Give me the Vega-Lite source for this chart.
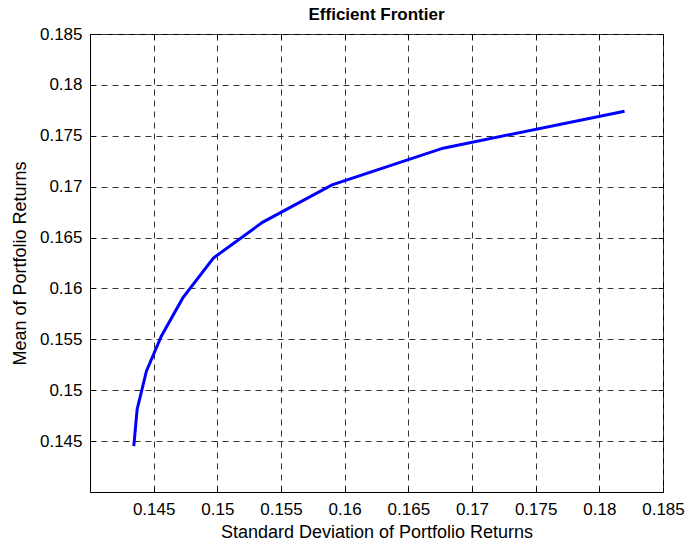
{
  "$schema": "https://vega.github.io/schema/vega-lite/v6.json",
  "autosize": "none",
  "width": 573,
  "height": 458,
  "padding": {"left": 90, "top": 34, "right": 22, "bottom": 52},
  "background": "white",
  "title": {"text": "Efficient Frontier", "font": "Liberation Sans", "fontSize": 17, "fontWeight": "bold", "color": "black", "offset": 1, "anchor": "middle"},
  "config": {
    "view": {"stroke": "black", "strokeWidth": 1},
    "axis": {"labelFont": "Liberation Sans", "titleFont": "Liberation Sans", "labelColor": "black", "titleColor": "black", "titleFontWeight": "normal"}
  },
  "data": {"values": [
    {"risk": 0.14344, "ret": 0.14451},
    {"risk": 0.14370, "ret": 0.14811},
    {"risk": 0.14443, "ret": 0.15187},
    {"risk": 0.14560, "ret": 0.15530},
    {"risk": 0.14729, "ret": 0.15907},
    {"risk": 0.14969, "ret": 0.16299},
    {"risk": 0.15354, "ret": 0.16649},
    {"risk": 0.15901, "ret": 0.17018},
    {"risk": 0.16773, "ret": 0.17378},
    {"risk": 0.18198, "ret": 0.17741}
  ]},
  "layer": [
    {
      "mark": {"type": "line", "color": "#0000ff", "strokeWidth": 3},
      "encoding": {
        "x": {"field": "risk", "type": "quantitative", "scale": {"domain": [0.14, 0.185], "nice": false, "zero": false},
          "axis": {"orient": "bottom", "title": "Standard Deviation of Portfolio Returns", "titleFontSize": 18, "labelFontSize": 17,
            "values": [0.145, 0.15, 0.155, 0.16, 0.165, 0.17, 0.175, 0.18, 0.185], "format": ".3~f",
            "grid": true, "gridDash": [6, 5], "gridColor": "#333333", "gridOpacity": 1,
            "domainColor": "black", "tickColor": "black", "tickSize": -5, "labelPadding": 14, "titlePadding": 6, "labelFlush": false}},
        "y": {"field": "ret", "type": "quantitative", "scale": {"domain": [0.14, 0.185], "nice": false, "zero": false},
          "axis": {"orient": "left", "title": "Mean of Portfolio Returns", "titleFontSize": 18, "labelFontSize": 17,
            "values": [0.145, 0.15, 0.155, 0.16, 0.165, 0.17, 0.175, 0.18, 0.185], "format": ".3~f",
            "grid": true, "gridDash": [6, 5], "gridColor": "#333333", "gridOpacity": 1,
            "domainColor": "black", "tickColor": "black", "tickSize": -5, "labelPadding": 13, "titlePadding": 10, "labelFlush": false}}
      }
    },
    {
      "mark": {"type": "line", "opacity": 0},
      "encoding": {
        "x": {"field": "risk", "type": "quantitative",
          "axis": {"orient": "top", "title": null, "labels": false, "grid": false, "domain": false,
            "values": [0.145, 0.15, 0.155, 0.16, 0.165, 0.17, 0.175, 0.18, 0.185], "tickColor": "black", "tickSize": -5}},
        "y": {"field": "ret", "type": "quantitative",
          "axis": {"orient": "right", "title": null, "labels": false, "grid": false, "domain": false,
            "values": [0.145, 0.15, 0.155, 0.16, 0.165, 0.17, 0.175, 0.18, 0.185], "tickColor": "black", "tickSize": -5}}
      }
    }
  ],
  "resolve": {"axis": {"x": "independent", "y": "independent"}}
}
